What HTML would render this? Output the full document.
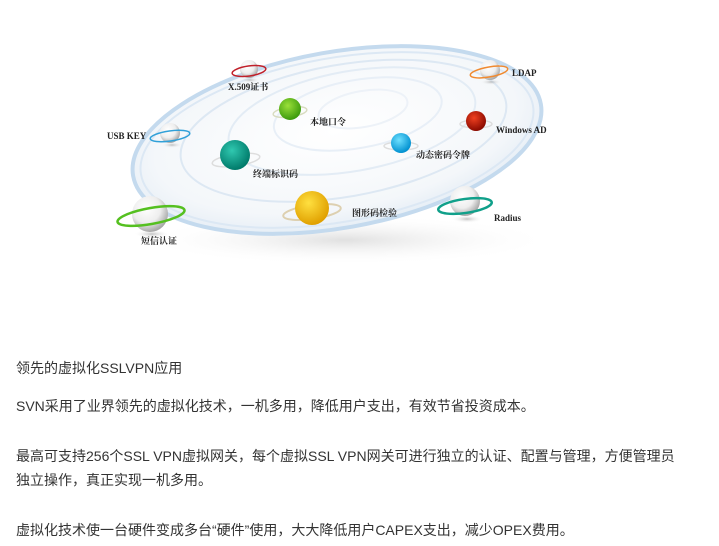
<!DOCTYPE html>
<html><head><meta charset="utf-8"><style>
body{margin:0;width:719px;height:546px;background:#fff;overflow:hidden;font-family:"Liberation Sans","Noto Sans CJK SC",sans-serif;}
p{position:absolute;left:16px;margin:0;font-size:14px;color:#333;white-space:nowrap;}
svg text{font-family:"Liberation Serif","Noto Serif CJK SC",serif;font-size:9px;font-weight:bold;fill:#222;}
</style></head><body>
<svg width="719" height="300" style="position:absolute;left:0;top:0">
<defs>
<radialGradient id="disk" cx="50%" cy="45%" r="55%"><stop offset="0" stop-color="#fff"/><stop offset="0.8" stop-color="#f4f7fa"/><stop offset="1" stop-color="#e6eef6"/></radialGradient>
<radialGradient id="shadow" cx="50%" cy="50%" r="50%"><stop offset="0" stop-color="#ccc" stop-opacity="0.6"/><stop offset="1" stop-color="#fff" stop-opacity="0"/></radialGradient>
<radialGradient id="ps" cx="50%" cy="50%" r="50%"><stop offset="0" stop-color="#999" stop-opacity="0.6"/><stop offset="1" stop-color="#fff" stop-opacity="0"/></radialGradient>
<radialGradient id="w" cx="40%" cy="35%" r="65%"><stop offset="0" stop-color="#fff"/><stop offset="0.6" stop-color="#eee"/><stop offset="1" stop-color="#a8a8a8"/></radialGradient>
<radialGradient id="g" cx="40%" cy="35%" r="65%"><stop offset="0" stop-color="#9be03a"/><stop offset="1" stop-color="#3c9a0c"/></radialGradient>
<radialGradient id="r" cx="40%" cy="35%" r="65%"><stop offset="0" stop-color="#f04020"/><stop offset="1" stop-color="#8a0a00"/></radialGradient>
<radialGradient id="c" cx="40%" cy="35%" r="65%"><stop offset="0" stop-color="#6ee0ff"/><stop offset="1" stop-color="#0090d0"/></radialGradient>
<radialGradient id="t" cx="40%" cy="35%" r="65%"><stop offset="0" stop-color="#30c8b0"/><stop offset="1" stop-color="#007a6a"/></radialGradient>
<radialGradient id="y" cx="40%" cy="35%" r="65%"><stop offset="0" stop-color="#ffe040"/><stop offset="1" stop-color="#e0a000"/></radialGradient>
</defs>
<ellipse cx="345" cy="240" rx="210" ry="25" fill="url(#shadow)"/>
<g transform="rotate(-10 337 140)">
<ellipse cx="337" cy="140" rx="207" ry="88" fill="url(#disk)" stroke="#c4daee" stroke-width="4"/>
<ellipse cx="337" cy="140" rx="199" ry="82" fill="none" stroke="#dce8f4" stroke-width="2"/>
<ellipse cx="345" cy="132" rx="165" ry="66" fill="none" stroke="#dde8f3" stroke-width="2"/>
<ellipse cx="355" cy="124" rx="125" ry="50" fill="none" stroke="#e3ecf5" stroke-width="2"/>
<ellipse cx="362" cy="118" rx="85" ry="34" fill="none" stroke="#e8eff7" stroke-width="2"/>
<ellipse cx="368" cy="114" rx="45" ry="18" fill="none" stroke="#edf2f8" stroke-width="2"/>
</g>
<g>
<ellipse cx="250" cy="80" rx="10" ry="3" fill="url(#ps)"/>
<circle cx="249" cy="69" r="9" fill="url(#w)"/><ellipse cx="249" cy="71" rx="17" ry="5" fill="none" stroke="#c0202a" stroke-width="1.5" transform="rotate(-8 249 71)"/>
<ellipse cx="491" cy="82" rx="11" ry="3" fill="url(#ps)"/>
<circle cx="490" cy="70" r="10" fill="url(#w)"/><ellipse cx="489" cy="72" rx="19" ry="5" fill="none" stroke="#f08a30" stroke-width="1.5" transform="rotate(-10 489 72)"/>
<ellipse cx="290" cy="112" rx="17" ry="5" fill="none" stroke="#d8dcc0" stroke-width="1.5" transform="rotate(-8 290 112)"/><circle cx="290" cy="109" r="11" fill="url(#g)"/>
<ellipse cx="476" cy="124" rx="16" ry="4" fill="none" stroke="#ddd" stroke-width="1.5"/><circle cx="476" cy="121" r="10" fill="url(#r)"/>
<ellipse cx="172" cy="145" rx="11" ry="3" fill="url(#ps)"/>
<circle cx="170" cy="133" r="10" fill="url(#w)"/><ellipse cx="170" cy="136" rx="20" ry="5" fill="none" stroke="#30a0d8" stroke-width="1.5" transform="rotate(-8 170 136)"/>
<ellipse cx="401" cy="146" rx="17" ry="4" fill="none" stroke="#ddd" stroke-width="1.5"/><circle cx="401" cy="143" r="10" fill="url(#c)"/>
<ellipse cx="236" cy="160" rx="24" ry="6" fill="none" stroke="#ddd" stroke-width="1.5" transform="rotate(-8 236 160)"/><circle cx="235" cy="155" r="15" fill="url(#t)"/>
<ellipse cx="312" cy="212" rx="29" ry="7" fill="none" stroke="#ddd0b0" stroke-width="2" transform="rotate(-8 312 212)"/><circle cx="312" cy="208" r="17" fill="url(#y)"/>
<ellipse cx="467" cy="219" rx="16" ry="4" fill="url(#ps)"/>
<circle cx="465" cy="201" r="15" fill="url(#w)"/><ellipse cx="465" cy="206" rx="27" ry="7" fill="none" stroke="#10a08a" stroke-width="2.5" transform="rotate(-8 465 206)"/>
<ellipse cx="152" cy="234" rx="18" ry="4" fill="url(#ps)"/>
<circle cx="150" cy="214" r="18" fill="url(#w)"/><ellipse cx="151" cy="216" rx="34" ry="8" fill="none" stroke="#55c020" stroke-width="2.5" transform="rotate(-10 151 216)"/>
</g>
<text x="228" y="90">X.509证书</text>
<text x="512" y="76">LDAP</text>
<text x="310" y="125">本地口令</text>
<text x="496" y="133">Windows AD</text>
<text x="107" y="139">USB KEY</text>
<text x="416" y="158">动态密码令牌</text>
<text x="253" y="177">终端标识码</text>
<text x="352" y="216">图形码检验</text>
<text x="494" y="221">Radius</text>
<text x="141" y="244">短信认证</text>
</svg>
<p style="top:358px">领先的虚拟化SSLVPN应用</p>
<p style="top:396px">SVN采用了业界领先的虚拟化技术，一机多用，降低用户支出，有效节省投资成本。</p>
<p style="top:446px">最高可支持256个SSL VPN虚拟网关，每个虚拟SSL VPN网关可进行独立的认证、配置与管理，方便管理员</p>
<p style="top:470px">独立操作，真正实现一机多用。</p>
<p style="top:520px">虚拟化技术使一台硬件变成多台“硬件”使用，大大降低用户CAPEX支出，减少OPEX费用。</p>
</body></html>
